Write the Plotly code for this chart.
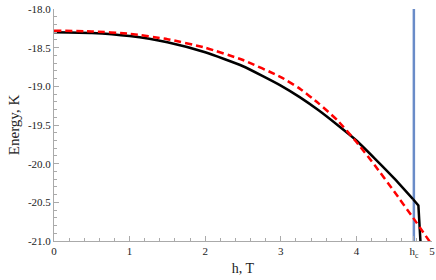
import plotly.graph_objects as go

# black (solid) curve: smooth part and the steep tail after h_c
h_black = [0, 0.5, 1.0, 1.5, 2.0, 2.5, 3.0, 3.25, 3.5, 3.75, 4.0, 4.25, 4.5, 4.75]
e_black = [-18.30, -18.31, -18.35, -18.43, -18.56, -18.74, -18.99, -19.14, -19.31, -19.50, -19.70,
           -19.94, -20.19, -20.46]
h_black_tail = [4.75, 4.82, 4.85]
e_black_tail = [-20.46, -20.54, -21.05]

# red (dashed) curve
h_red = [0, 0.5, 1.0, 1.5, 2.0, 2.5, 3.0, 3.25, 3.5, 3.75, 4.0, 4.25, 4.5, 4.75, 5.0]
e_red = [-18.28, -18.29, -18.32, -18.39, -18.50, -18.66, -18.88, -19.03, -19.22, -19.44, -19.72,
         -20.03, -20.36, -20.70, -21.05]

# critical field
h_c = 4.76
hc_line_y = [-21.0, -17.97]

x_tick_vals = [0, 1, 2, 3, 4, h_c, 5]
x_tick_text = ["0", "1", "2", "3", "4", "h<sub>c</sub>", "5"]
y_tick_vals = [-21.0, -20.5, -20.0, -19.5, -19.0, -18.5, -18.0]
y_tick_text = ["-21.0", "-20.5", "-20.0", "-19.5", "-19.0", "-18.5", "-18.0"]

fig = go.Figure()
fig.add_trace(go.Scatter(x=[h_c, h_c], y=hc_line_y, mode="lines", cliponaxis=False,
                         line=dict(color="#6a8cc8", width=2.5), showlegend=False))
fig.add_trace(go.Scatter(x=h_black, y=e_black, mode="lines", line_shape="spline",
                         line=dict(color="black", width=2.5, smoothing=0.5), showlegend=False))
fig.add_trace(go.Scatter(x=h_black_tail, y=e_black_tail, mode="lines",
                         line=dict(color="black", width=2.5), showlegend=False))
fig.add_trace(go.Scatter(x=h_red, y=e_red, mode="lines", line_shape="spline",
                         line=dict(color="#ff0000", width=2.5, dash="7px,4px", smoothing=0.5),
                         showlegend=False))

serif = "Liberation Serif, Times New Roman, serif"
font = dict(family=serif, size=11, color="#222")
axis_common = dict(showline=True, linecolor="#aaaaaa", linewidth=1, showgrid=False,
                   zeroline=False, ticks="inside", ticklen=5, tickcolor="#aaaaaa",
                   tickfont=font, mirror=False, automargin=False)

fig.update_layout(
    width=436, height=280,
    margin=dict(l=54, r=4, t=9, b=39),
    paper_bgcolor="white", plot_bgcolor="white",
    font=font,
    xaxis=dict(range=[0, 5], tickmode="array", tickvals=x_tick_vals, ticktext=x_tick_text,
               title=dict(text="h, T", font=dict(family=serif, size=14, color="#222"),
                          standoff=4),
               minor=dict(dtick=0.2, tick0=0, ticks="inside", ticklen=3, tickcolor="#aaaaaa"),
               **axis_common),
    yaxis=dict(range=[-21, -18], tickmode="array", tickvals=y_tick_vals, ticktext=y_tick_text,
               title=dict(text="Energy, K", font=dict(family=serif, size=15, color="#222"),
                          standoff=4),
               minor=dict(dtick=0.1, tick0=-21, ticks="inside", ticklen=3, tickcolor="#aaaaaa"),
               **axis_common),
)

fig.write_html("out.html", config={"displayModeBar": False},
               post_script="document.body.style.margin='0';")
